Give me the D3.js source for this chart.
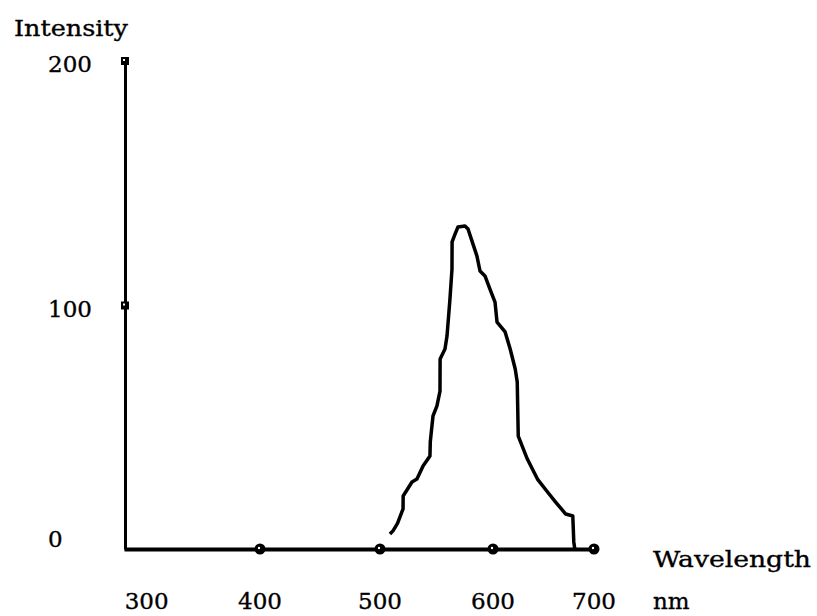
<!DOCTYPE html>
<html>
<head>
<meta charset="utf-8">
<script src="https://cdn.jsdelivr.net/npm/d3@7"></script>
<style>
  body { margin: 0; background: #fff; }
  text { fill: #000; stroke: #000; stroke-width: 0.35px; }
</style>
</head>
<body>
<div id="chart"></div>
<script>
// emission spectrum
const wavelength = [508.8, 511.5, 515.5, 520.4, 520.5, 528.3, 532.7, 538.1, 544.2, 544.5, 546.9, 550.4,
  553.1, 553.2, 557.5, 559.3, 561.9, 563.7, 563.8, 566.4, 569.0, 575.2, 577.9, 582.3, 585.8, 588.5,
  592.9, 597.3, 602, 604, 612, 617, 622, 624, 625, 634, 644, 654, 662, 672, 679, 680, 681];
const intensity = [6.1, 7.4, 10.5, 16.4, 21.7, 27.4, 28.6, 33.9, 38.0, 43.8, 54.4, 58.5,
  64.6, 77.7, 81.8, 87.1, 102.2, 114.5, 125.6, 128.8, 131.7, 132.1, 130.9, 124.7, 119.8, 113.7,
  111.7, 106.3, 101.0, 92.8, 88.8, 81.8, 73.6, 68.3, 46.2, 36.8, 28.6, 23.3, 19.2, 14.3, 13.5, 2.9, 0];

const xTicks = [300, 400, 500, 600, 700];
const xMarkers = [400, 500, 600, 700];
const yTicks = [0, 100, 200];
const yMarkers = [100, 200];

const width = 817, height = 616;
const font = "'DejaVu Serif', 'Liberation Serif', serif";

const svg = d3.select("#chart")
  .append("svg")
  .attr("width", width)
  .attr("height", height)
  .style("background-color", "#fff");

// the original axis is not evenly spaced, so use a piecewise scale
const x = d3.scaleLinear()
  .domain([280, 400, 500, 600, 700])
  .range([124, 260, 380, 493, 594]);
const y = d3.scaleLinear().domain([0, 200]).range([549, 60]);

// axis lines
const xAxis = svg.append("g")
  .attr("transform", `translate(0,${y(0)})`)
  .call(d3.axisBottom(x).tickValues([]).tickSizeOuter(0));
xAxis.select(".domain").attr("stroke", "#000").attr("stroke-width", 4);

const yAxis = svg.append("g")
  .attr("transform", `translate(${x(280) + 1},0)`)
  .call(d3.axisLeft(y).tickValues([]).tickSizeOuter(0));
yAxis.select(".domain").attr("stroke", "#000").attr("stroke-width", 3);

// tick markers
svg.selectAll("circle.xm")
  .data(xMarkers)
  .join("circle")
  .attr("class", "xm")
  .attr("cx", d => x(d))
  .attr("cy", y(0))
  .attr("r", 5.5)
  .attr("fill", "#000");
svg.selectAll("circle.xmdot")
  .data(xMarkers)
  .join("circle")
  .attr("class", "xmdot")
  .attr("cx", d => x(d) - 1)
  .attr("cy", y(0) - 1)
  .attr("r", 1.2)
  .attr("fill", "#fff");

svg.selectAll("rect.ym")
  .data(yMarkers)
  .join("rect")
  .attr("class", "ym")
  .attr("x", x(280) - 3)
  .attr("y", d => y(d) - 3)
  .attr("width", 8)
  .attr("height", 8)
  .attr("fill", "#000");
svg.selectAll("rect.ymdot")
  .data(yMarkers)
  .join("rect")
  .attr("class", "ymdot")
  .attr("x", x(280) - 1)
  .attr("y", d => y(d) - 1)
  .attr("width", 2)
  .attr("height", 2)
  .attr("fill", "#fff");

// tick labels
svg.selectAll("text.xl")
  .data(xTicks)
  .join("text")
  .attr("class", "xl")
  .attr("x", d => x(d))
  .attr("y", y(0) + 60)
  .attr("text-anchor", "middle")
  .style("font-family", font)
  .style("font-size", "23px")
  .text(d => d);

svg.selectAll("text.yl")
  .data(yTicks)
  .join("text")
  .attr("class", "yl")
  .attr("x", 48)
  .attr("y", d => y(d) + (d === 0 ? -2 : 12))
  .style("font-family", font)
  .style("font-size", "23px")
  .text(d => d);

// titles
svg.append("text")
  .attr("x", 14)
  .attr("y", 36)
  .attr("textLength", 114)
  .attr("lengthAdjust", "spacingAndGlyphs")
  .style("font-family", font)
  .style("font-size", "23px")
  .text("Intensity");

svg.append("text")
  .attr("x", 653)
  .attr("y", 567)
  .attr("textLength", 158)
  .attr("lengthAdjust", "spacingAndGlyphs")
  .style("font-family", font)
  .style("font-size", "23px")
  .text("Wavelength");

svg.append("text")
  .attr("x", 653)
  .attr("y", y(0) + 60)
  .style("font-family", font)
  .style("font-size", "23px")
  .text("nm");

// spectrum line
const pts = wavelength.map((w, i) => [w, intensity[i]]);
const line = d3.line().x(d => x(d[0])).y(d => y(d[1]));

svg.append("path")
  .datum(pts)
  .attr("d", line)
  .attr("fill", "none")
  .attr("stroke", "#000")
  .attr("stroke-width", 3.5)
  .attr("stroke-linejoin", "round");
</script>
</body>
</html>
